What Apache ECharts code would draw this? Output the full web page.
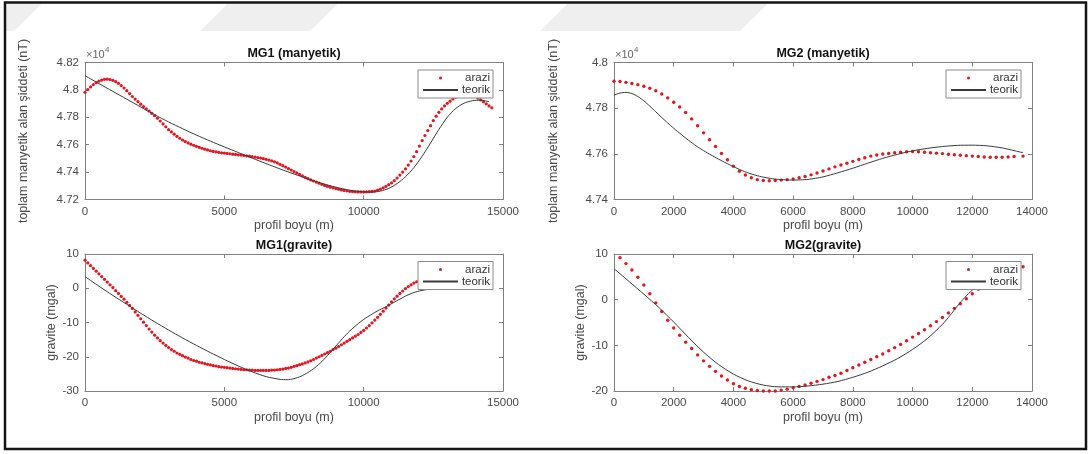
<!DOCTYPE html>
<html>
<head>
<meta charset="utf-8">
<script src="https://cdn.jsdelivr.net/npm/echarts@6/dist/echarts.min.js"></script>
<style>
  html, body { margin: 0; padding: 0; background: #fff; }
  #chart { width: 1092px; height: 454px; }
</style>
</head>
<body>
<div id="chart"></div>
<script>
// Profile distances (m)
const mg1Dist = [
  0,100,200,300,400,500,600,700,800,900,
  1000,1100,1200,1300,1400,1500,1600,1700,1800,1900,
  2000,2100,2200,2300,2400,2500,2600,2700,2800,2900,
  3000,3100,3200,3300,3400,3500,3600,3700,3800,3900,
  4000,4100,4200,4300,4400,4500,4600,4700,4800,4900,
  5000,5100,5200,5300,5400,5500,5600,5700,5800,5900,
  6000,6100,6200,6300,6400,6500,6600,6700,6800,6900,
  7000,7100,7200,7300,7400,7500,7600,7700,7800,7900,
  8000,8100,8200,8300,8400,8500,8600,8700,8800,8900,
  9000,9100,9200,9300,9400,9500,9600,9700,9800,9900,
  10000,10100,10200,10300,10400,10500,10600,10700,10800,10900,
  11000,11100,11200,11300,11400,11500,11600,11700,11800,11900,
  12000,12100,12200,12300,12400,12500,12600,12700,12800,12900,
  13000,13100,13200,13300,13400,13500,13600,13700,13800,13900,
  14000,14100,14200,14300,14400,14500,14600
];
const mg2Dist = [
  0,200,400,600,800,1000,1200,1400,1600,1800,
  2000,2200,2400,2600,2800,3000,3200,3400,3600,3800,
  4000,4200,4400,4600,4800,5000,5200,5400,5600,5800,
  6000,6200,6400,6600,6800,7000,7200,7400,7600,7800,
  8000,8200,8400,8600,8800,9000,9200,9400,9600,9800,
  10000,10200,10400,10600,10800,11000,11200,11400,11600,11800,
  12000,12200,12400,12600,12800,13000,13200,13400,13700
];

// MG1 magnetic field (nT): field measurements
const mg1MagArazi = [
  47983,48003,48022,48039,48053,48064,48072,48077,48078,48076,
  48070,48061,48048,48032,48014,47994,47973,47952,47933,47914,
  47896,47878,47862,47846,47829,47812,47793,47773,47752,47731,
  47710,47693,47677,47661,47647,47634,47623,47613,47604,47596,
  47588,47581,47574,47567,47562,47556,47551,47548,47544,47541,
  47539,47536,47534,47531,47529,47526,47524,47521,47519,47516,
  47513,47510,47506,47503,47498,47493,47488,47482,47475,47467,
  47457,47447,47437,47426,47415,47404,47394,47383,47372,47362,
  47352,47343,47335,47327,47319,47311,47303,47296,47290,47285,
  47280,47275,47270,47266,47263,47260,47258,47256,47255,47255,
  47255,47256,47257,47259,47262,47268,47276,47285,47296,47309,
  47322,47338,47357,47378,47400,47424,47451,47481,47513,47549,
  47590,47630,47667,47703,47739,47776,47808,47836,47861,47883,
  47902,47918,47934,47947,47957,47964,47968,47969,47966,47960,
  47951,47940,47927,47913,47898,47883,47869
];
// MG1 magnetic field (nT): model response
const mg1MagTeorikX = [0,500,1000,1500,2000,2500,3000,3500,4000,4500,5000,5500,6000,6500,7000,7500,8000,8500,9000,9500,10000,10300,10600,10900,11200,11500,11800,12100,12400,12700,13000,13300,13600,13900,14200,14500];
const mg1MagTeorik = [48104,48046,47989,47932,47875,47819,47766,47717,47670,47626,47584,47543,47502,47462,47423,47386,47351,47318,47290,47268,47256,47254,47261,47281,47316,47366,47432,47516,47612,47712,47800,47864,47903,47921,47925,47914];

// MG1 gravity (mgal)
const mg1GravArazi = [
  8.2,7.4,6.6,5.8,5.0,4.2,3.4,2.6,1.8,1.0,
  0.2,-0.7,-1.5,-2.4,-3.2,-4.1,-5.0,-5.9,-6.9,-7.9,
  -8.9,-9.9,-10.9,-11.9,-12.8,-13.7,-14.5,-15.3,-16.0,-16.7,
  -17.3,-17.9,-18.4,-18.9,-19.3,-19.7,-20.1,-20.4,-20.8,-21.1,
  -21.3,-21.6,-21.8,-22.0,-22.2,-22.4,-22.6,-22.7,-22.9,-23.0,
  -23.1,-23.2,-23.3,-23.4,-23.5,-23.6,-23.7,-23.8,-23.8,-23.9,
  -23.9,-24.0,-24.0,-24.0,-24.0,-24.0,-24.0,-23.9,-23.9,-23.8,
  -23.7,-23.6,-23.4,-23.3,-23.1,-22.8,-22.6,-22.3,-22.1,-21.8,
  -21.5,-21.2,-20.8,-20.4,-20.0,-19.6,-19.2,-18.8,-18.4,-17.9,
  -17.5,-17.0,-16.5,-16.0,-15.5,-15.0,-14.5,-14.0,-13.5,-12.9,
  -12.3,-11.6,-10.9,-10.1,-9.3,-8.5,-7.6,-6.7,-5.8,-4.9,
  -4.0,-3.1,-2.3,-1.5,-0.8,-0.1,0.5,1.0,1.5,1.9,
  2.3,2.7,3.1,3.5,3.9,4.2
];
const mg1GravTeorikX = [0,500,1000,1500,2000,2500,3000,3500,4000,4500,5000,5500,6000,6500,7000,7250,7500,7750,8000,8250,8500,8750,9000,9250,9500,9750,10000,10250,10500,10750,11000,11250,11500,11750,12000,12250,12500];
const mg1GravTeorik = [3.4,0.6,-2.1,-4.7,-7.3,-9.8,-12.2,-14.5,-16.7,-18.8,-20.8,-22.7,-24.4,-25.8,-26.6,-26.7,-26.4,-25.7,-24.6,-23.2,-21.4,-19.2,-16.9,-14.6,-12.5,-10.7,-9.1,-7.8,-6.6,-5.6,-4.5,-3.4,-2.3,-1.4,-0.8,-0.4,-0.1];

// MG2 magnetic field (nT)
const mg2MagArazi = [
  47918,47917,47913,47908,47903,47896,47887,47876,47862,47845,
  47826,47805,47781,47753,47723,47692,47662,47632,47602,47574,
  47546,47524,47507,47495,47487,47483,47482,47483,47485,47487,
  47490,47495,47501,47508,47516,47525,47534,47543,47551,47559,
  47567,47575,47583,47590,47595,47599,47602,47605,47607,47609,
  47610,47609,47607,47605,47603,47601,47598,47596,47594,47592,
  47590,47588,47586,47585,47585,47585,47586,47588,47590
];
const mg2MagTeorikX = [0,200,400,600,800,1000,1200,1400,1600,1800,2000,2250,2500,2750,3000,3250,3500,3750,4000,4250,4500,4750,5000,5250,5500,5750,6000,6250,6500,6750,7000,7500,8000,8500,9000,9500,10000,10500,11000,11500,12000,12500,13000,13400,13700];
const mg2MagTeorik = [47857,47866,47869,47864,47851,47832,47809,47784,47759,47735,47712,47685,47659,47635,47614,47595,47577,47560,47544,47529,47516,47506,47498,47492,47488,47486,47485,47486,47488,47493,47499,47517,47537,47559,47580,47598,47613,47624,47632,47637,47638,47635,47626,47614,47605];

// MG2 gravity (mgal)
const mg2GravArazi = [
  10.2,9.2,7.9,6.5,4.9,3.2,1.3,-0.7,-2.6,-4.5,
  -6.2,-7.8,-9.3,-10.7,-12.1,-13.4,-14.6,-15.7,-16.7,-17.6,
  -18.4,-19.0,-19.4,-19.7,-19.9,-20.0,-20.0,-20.0,-19.8,-19.6,
  -19.3,-19.0,-18.7,-18.3,-17.9,-17.5,-17.0,-16.6,-16.1,-15.5,
  -14.9,-14.3,-13.7,-13.1,-12.5,-11.9,-11.2,-10.5,-9.8,-9.0,
  -8.2,-7.4,-6.6,-5.7,-4.8,-3.9,-2.9,-1.9,-0.9,0.2,
  1.3,2.3,3.0,3.8,4.6,5.3,6.0,6.6,7.2
];
const mg2GravTeorikX = [0,500,1000,1500,2000,2500,3000,3500,4000,4500,5000,5500,6000,6500,7000,7500,8000,8500,9000,9500,10000,10500,11000,11250,11500,11750,12000,12500,13000,13600];
const mg2GravTeorik = [6.8,4.0,1.2,-1.7,-4.9,-8.3,-11.5,-14.2,-16.3,-17.8,-18.7,-19.1,-19.1,-18.9,-18.5,-17.9,-17.0,-15.9,-14.5,-12.9,-10.9,-8.5,-5.4,-3.5,-1.4,0.5,2.1,4.5,6.1,7.3];

// Panel titles and axis texts
const panelTitles = ['MG1 (manyetik)', 'MG2 (manyetik)', 'MG1(gravite)', 'MG2(gravite)'];
const xName = 'profil boyu (m)';
const magName = 'toplam manyetik alan şiddeti (nT)';
const gravName = 'gravite (mgal)';
const seriesNames = ['arazi', 'teorik'];

const FONT = '"Liberation Sans", Arial, Helvetica, sans-serif';
const AXIS_COLOR = '#808080';
const LABEL_COLOR = '#4a4a4a';
const RED = '#e6141f';
const LINE = '#3a3a3a';

const pairs = (xs, ys) => ys.map((y, i) => [xs[i], y]);

// grid boxes (px)
const grids = [
  { left: 85,  top: 62.5, width: 418, height: 137 },
  { left: 614, top: 62.5, width: 418, height: 137 },
  { left: 85,  top: 254,  width: 418, height: 137 },
  { left: 614, top: 254,  width: 418, height: 137 }
];

const xRanges = [
  { max: 15000, interval: 5000 },
  { max: 14000, interval: 2000 },
  { max: 15000, interval: 5000 },
  { max: 14000, interval: 2000 }
];
const yRanges = [
  { min: 47200, max: 48200, interval: 200, name: magName, gap: 55, mag: true },
  { min: 47400, max: 48000, interval: 200, name: magName, gap: 54, mag: true },
  { min: -30, max: 10, interval: 10, name: gravName, gap: 23, mag: false },
  { min: -20, max: 10, interval: 10, name: gravName, gap: 22, mag: false }
];

const tickStyle = { show: true, inside: true, length: 4, lineStyle: { color: AXIS_COLOR, width: 1 } };
const lineStyleAx = { show: true, onZero: false, lineStyle: { color: AXIS_COLOR, width: 1 } };
const plain = (v) => String(v);

const xAxes = [];
const yAxes = [];
grids.forEach((g, i) => {
  const xr = xRanges[i];
  xAxes.push({
    type: 'value', gridIndex: i, position: 'bottom', min: 0, max: xr.max, interval: xr.interval,
    axisLine: lineStyleAx, axisTick: tickStyle, splitLine: { show: false },
    axisLabel: { color: LABEL_COLOR, fontSize: 11.5, fontFamily: FONT, margin: 6, formatter: plain },
    name: xName, nameLocation: 'middle', nameGap: 20,
    nameTextStyle: { color: LABEL_COLOR, fontSize: 12.5, fontFamily: FONT }
  });
  xAxes.push({
    type: 'value', gridIndex: i, position: 'top', min: 0, max: xr.max, interval: xr.interval,
    axisLine: lineStyleAx, axisTick: tickStyle, splitLine: { show: false },
    axisLabel: { show: false }
  });
  const yr = yRanges[i];
  yAxes.push({
    type: 'value', gridIndex: i, position: 'left', min: yr.min, max: yr.max, interval: yr.interval,
    axisLine: lineStyleAx, axisTick: tickStyle, splitLine: { show: false },
    axisLabel: {
      color: LABEL_COLOR, fontSize: 11.5, fontFamily: FONT, margin: 6,
      formatter: yr.mag ? (v) => String(+(v / 10000).toFixed(2)) : plain
    },
    name: yr.name, nameLocation: 'middle', nameGap: yr.gap,
    nameTextStyle: { color: LABEL_COLOR, fontSize: 12.5, fontFamily: FONT }
  });
  yAxes.push({
    type: 'value', gridIndex: i, position: 'right', min: yr.min, max: yr.max, interval: yr.interval,
    axisLine: lineStyleAx, axisTick: tickStyle, splitLine: { show: false },
    axisLabel: { show: false }
  });
});

const panelData = [
  { arazi: pairs(mg1Dist, mg1MagArazi),  teorik: pairs(mg1MagTeorikX, mg1MagTeorik),  size: 3.2 },
  { arazi: pairs(mg2Dist, mg2MagArazi),  teorik: pairs(mg2MagTeorikX, mg2MagTeorik),  size: 3.4 },
  { arazi: pairs(mg1Dist, mg1GravArazi), teorik: pairs(mg1GravTeorikX, mg1GravTeorik), size: 3.2 },
  { arazi: pairs(mg2Dist, mg2GravArazi), teorik: pairs(mg2GravTeorikX, mg2GravTeorik), size: 3.4 }
];

const series = [];
panelData.forEach((p, i) => {
  series.push({
    name: seriesNames[0], type: 'scatter', xAxisIndex: 2 * i, yAxisIndex: 2 * i,
    symbol: 'circle', symbolSize: p.size, itemStyle: { color: RED, opacity: 1 },
    data: p.arazi, silent: true, animation: false
  });
  series.push({
    name: seriesNames[1], type: 'line', xAxisIndex: 2 * i, yAxisIndex: 2 * i,
    symbol: 'none', smooth: 0.25,
    lineStyle: { color: LINE, width: 1 }, itemStyle: { color: LINE },
    data: p.teorik, silent: true, animation: false
  });
});

// legend boxes in the upper right of each panel
const legendPos = [
  { left: 418, top: 70 },
  { left: 946, top: 70 },
  { left: 418, top: 261.5 },
  { left: 946, top: 261.5 }
];
const legends = legendPos.map((pos) => ({
  left: pos.left, top: pos.top, orient: 'vertical',
  itemWidth: 35, itemHeight: 3, itemGap: 0,
  padding: [2, 3, 2, 4],
  backgroundColor: '#ffffff', borderColor: '#8a8a8a', borderWidth: 1, borderRadius: 0,
  selectedMode: false,
  data: [
    { name: seriesNames[0], icon: 'circle' },
    { name: seriesNames[1], itemStyle: { opacity: 0, color: 'rgba(0,0,0,0)', borderWidth: 0 } }
  ],
  formatter: (name) => '{t|' + name + '}',
  textStyle: {
    color: '#333', fontFamily: FONT, fontSize: 11.5,
    rich: { t: { width: 27, align: 'right', lineHeight: 13, fontSize: 11.5, fontFamily: FONT, color: '#333' } }
  }
}));

const graphics = [];
// faint slanted page stripes along the top edge of the page
const stripeTop = 3.5, stripeBottom = 31, stripeSlant = 28;
[[6, 14], [200, 310], [540, 740]].forEach(([a, b]) => {
  graphics.push({
    type: 'polygon', silent: true, z: 0,
    shape: { points: [[a, stripeBottom], [b, stripeBottom], [b + stripeSlant, stripeTop], [Math.max(6, a + stripeSlant - (a === 6 ? stripeSlant : 0)), stripeTop]] },
    style: { fill: '#efefef' }
  });
});
// titles and exponent marks
panelTitles.forEach((t, i) => {
  const g = grids[i];
  graphics.push({
    type: 'text', x: g.left + g.width / 2, y: g.top - 8.5,
    style: { text: t, align: 'center', verticalAlign: 'middle', fill: '#111', font: 'bold 12.5px ' + FONT }
  });
});
[0, 1].forEach((i) => {
  const g = grids[i];
  graphics.push({
    type: 'text', x: g.left + 1, y: g.top - 8,
    style: { text: '×10', align: 'left', verticalAlign: 'middle', fill: '#666', font: '11px ' + FONT }
  });
  graphics.push({
    type: 'text', x: g.left + 20, y: g.top - 13,
    style: { text: '4', align: 'left', verticalAlign: 'middle', fill: '#666', font: '8px ' + FONT }
  });
});
// outer frame
graphics.push({
  type: 'rect', shape: { x: 5, y: 2.5, width: 1081, height: 446.5 },
  style: { fill: 'none', stroke: '#141414', lineWidth: 2.5 }, z: 10
});

const chart = echarts.init(document.getElementById('chart'), null, { renderer: 'canvas' });
chart.setOption({
  animation: false,
  backgroundColor: '#ffffff',
  grid: grids.map((g) => Object.assign({ containLabel: false }, g)),
  xAxis: xAxes,
  yAxis: yAxes,
  legend: legends,
  series: series,
  graphic: graphics
});
</script>
</body>
</html>
